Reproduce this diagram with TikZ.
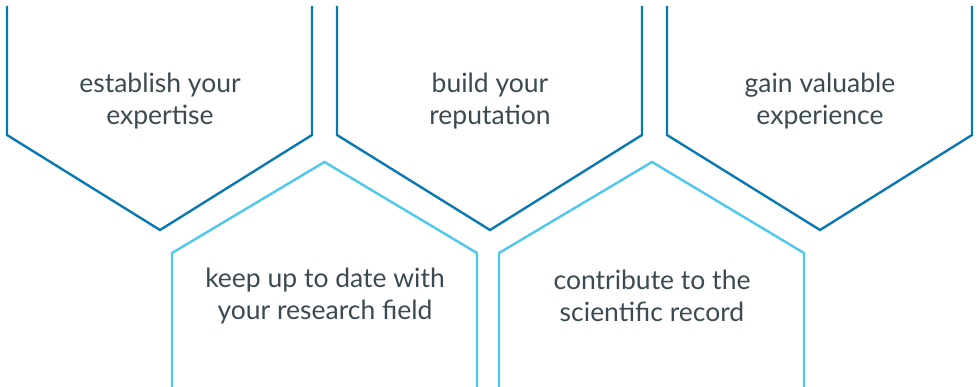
\documentclass[tikz,border=0pt]{standalone}
\usepackage{fontspec}
\setmainfont{Lato}
\definecolor{darkb}{HTML}{0A79B3}
\definecolor{lightb}{HTML}{4EC8EE}
\definecolor{txt}{HTML}{3A4A50}
\tikzset{
  top/.style={draw=darkb, line width=2.4pt, line join=miter},
  bot/.style={draw=lightb, line width=2.4pt, line join=miter},
  lbl/.style={text=txt, font=\fontsize{26.5}{32}\selectfont, align=center}
}
\begin{document}
\begin{tikzpicture}[x=1pt,y=-1pt]
\useasboundingbox (0,0) rectangle (979,387);
% top row (pointing down)
\draw[top] (7,6) -- (7,135) -- (160,230) -- (312,135) -- (312,6);
\draw[top] (337,6) -- (337,135) -- (490,230) -- (642,135) -- (642,6);
\draw[top] (667,6) -- (667,135) -- (820,230) -- (972,135) -- (972,6);
% bottom row (pointing up)
\draw[bot] (172,390) -- (172,253) -- (324.5,162) -- (477,253) -- (477,390);
\draw[bot] (499,390) -- (499,253) -- (652,162) -- (804,253) -- (804,390);
% labels
\node[lbl] (t1) at (160,101) {establish your\\expertise};
\node[lbl] (t2) at (490,101) {build your\\reputation};
\node[lbl] (t3) at (820,101) {gain valuable\\experience};
\node[lbl] (t4) at (325,296) {keep up to date with\\your research field};
\node[lbl] (t5) at (652,296) {contribute to the\\scientific record};
\end{tikzpicture}
\end{document}
